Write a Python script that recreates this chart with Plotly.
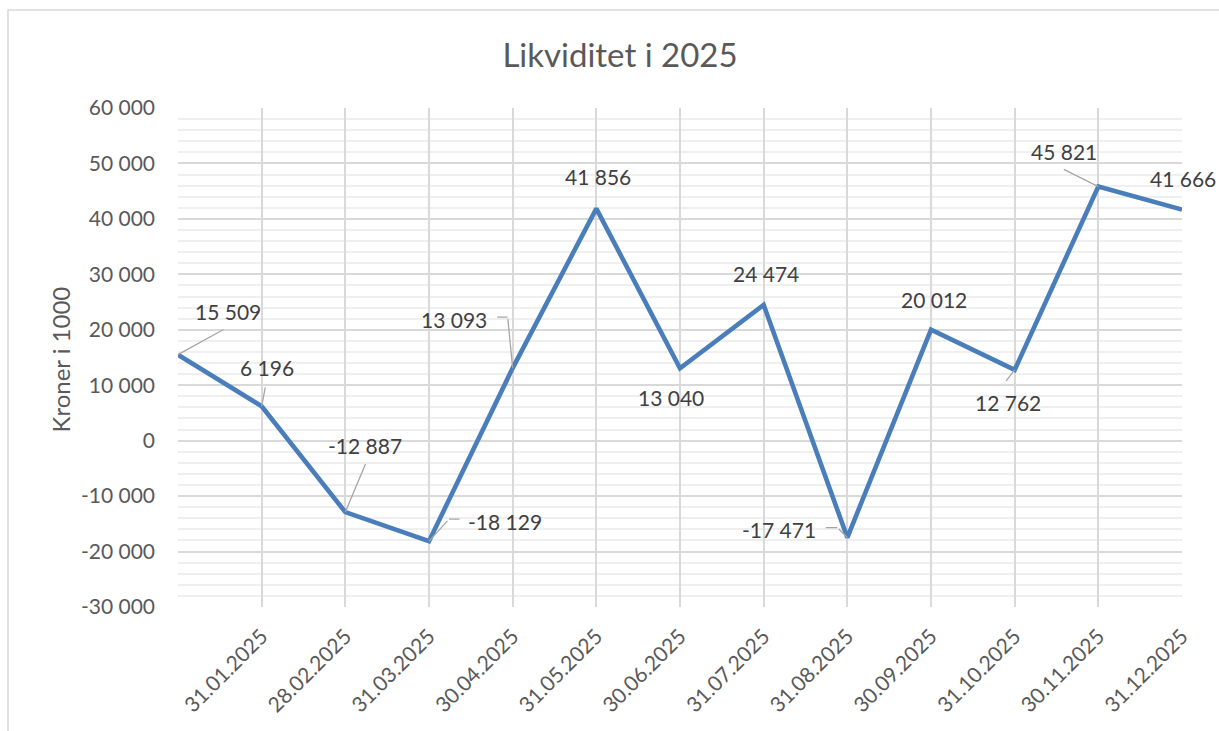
import plotly.graph_objects as go

# ---- data ----
categories = ["", "31.01.2025", "28.02.2025", "31.03.2025", "30.04.2025", "31.05.2025",
              "30.06.2025", "31.07.2025", "31.08.2025", "30.09.2025", "31.10.2025",
              "30.11.2025", "31.12.2025"]
likviditet = [15509, 6196, -12887, -18129, 13093, 41856, 13040, 24474, -17471,
              20012, 12762, 45821, 41666]
y_tick_values = [60000, 50000, 40000, 30000, 20000, 10000, 0, -10000, -20000, -30000]
y_tick_labels = ["60 000", "50 000", "40 000", "30 000", "20 000", "10 000", "0",
                 "-10 000", "-20 000", "-30 000"]

# ---- label placement (pixel offsets of label centre from the point; +y = up) ----
label_offsets = [(50, 43), (5, 39), (20, 67), (76, 20), (-59, 49), (2, 32), (-9, -29),
                 (2, 31), (-68, 8), (3, 30), (-7, -33), (-34, 35), (1, 31)]
# leader lines: list of segments (start offset from point, segment vector) in px, +y down
leaders = {
    0: [((0, 0), (47, -26))],
    1: [((0, 0), (4, -21))],
    2: [((0, 0), (21, -50))],
    3: [((0, 0), (20, -22)), ((20, -22), (12, 0))],
    4: [((0, 0), (-5, -51)), ((-5, -51), (-12, 0))],
    8: [((0, 0), (-10, -10)), ((-10, -10), (-13, 0))],
    10: [((0, 0), (-10, 13))],
    11: [((0, 0), (-36, -18))],
}

FONT = "Lato, 'Open Sans', sans-serif"
x = list(range(len(categories)))

fig = go.Figure()
fig.add_trace(go.Scatter(x=x, y=likviditet, mode="lines",
                         line=dict(color="#4a7ebb", width=4.6), hoverinfo="skip",
                         showlegend=False))

def fmt(v):
    return f"{v:,}".replace(",", " ")

annotations = []
for i, v in enumerate(likviditet):
    dx, dy = label_offsets[i]
    annotations.append(dict(x=i, y=v, xref="x", yref="y", text=fmt(v), showarrow=False,
                            xshift=dx, yshift=dy, xanchor="center", yanchor="middle",
                            font=dict(family=FONT, size=21, color="#404040")))
    for (sx, sy), (ax, ay) in leaders.get(i, []):
        annotations.append(dict(x=i, y=v, xref="x", yref="y", text=" ", showarrow=True,
                                arrowhead=0, arrowwidth=1.3, arrowcolor="#a6a6a6",
                                ax=ax, ay=ay, axref="pixel", ayref="pixel",
                                xshift=sx, yshift=-sy, standoff=0, startstandoff=0,
                                font=dict(size=1)))

annotations.append(dict(text="Kroner i 1000", xref="paper", yref="paper",
                        x=(60 - 178) / 1004, y=0.496, textangle=-90, showarrow=False,
                        xanchor="center", yanchor="middle",
                        font=dict(family=FONT, size=24, color="#595959")))

fig.update_layout(
    width=1219, height=731,
    margin=dict(l=178, r=37, t=108, b=124),
    paper_bgcolor="white", plot_bgcolor="white",
    title=dict(text="Likviditet i 2025", x=620 / 1219, xanchor="center",
               y=1 - 55 / 731, yanchor="middle", xref="container", yref="container",
               font=dict(family=FONT, size=33, color="#595959")),
    annotations=annotations,
    shapes=[dict(type="rect", xref="paper", yref="paper",
                 x0=(8 - 178) / 1004, x1=(1230 - 178) / 1004,
                 y0=(607 - 745) / 499, y1=(607 - 10) / 499,
                 line=dict(color="#d9d9d9", width=1.5), layer="below")],
)
fig.update_xaxes(range=[0, 12], tickmode="array", tickvals=x, ticktext=categories,
                 tickangle=-45, showgrid=True, gridcolor="#d9d9d9", gridwidth=1.8,
                 zeroline=False, showline=False, ticks="", ticklabelstandoff=12,
                 tickfont=dict(family=FONT, size=21, color="#595959"))
fig.update_yaxes(range=[-30000, 60000], tickmode="array", tickvals=y_tick_values,
                 ticktext=y_tick_labels, showgrid=True, gridcolor="#d9d9d9", gridwidth=1.8,
                 zeroline=False, showline=False, ticks="", ticklabelstandoff=22,
                 minor=dict(dtick=2000, showgrid=True, gridcolor="#efefef", gridwidth=1.5),
                 tickfont=dict(family=FONT, size=21, color="#595959"))

fig.write_html("out.html", config={"displayModeBar": False},
               post_script="document.body.style.margin='0';document.body.style.overflow='hidden';")
